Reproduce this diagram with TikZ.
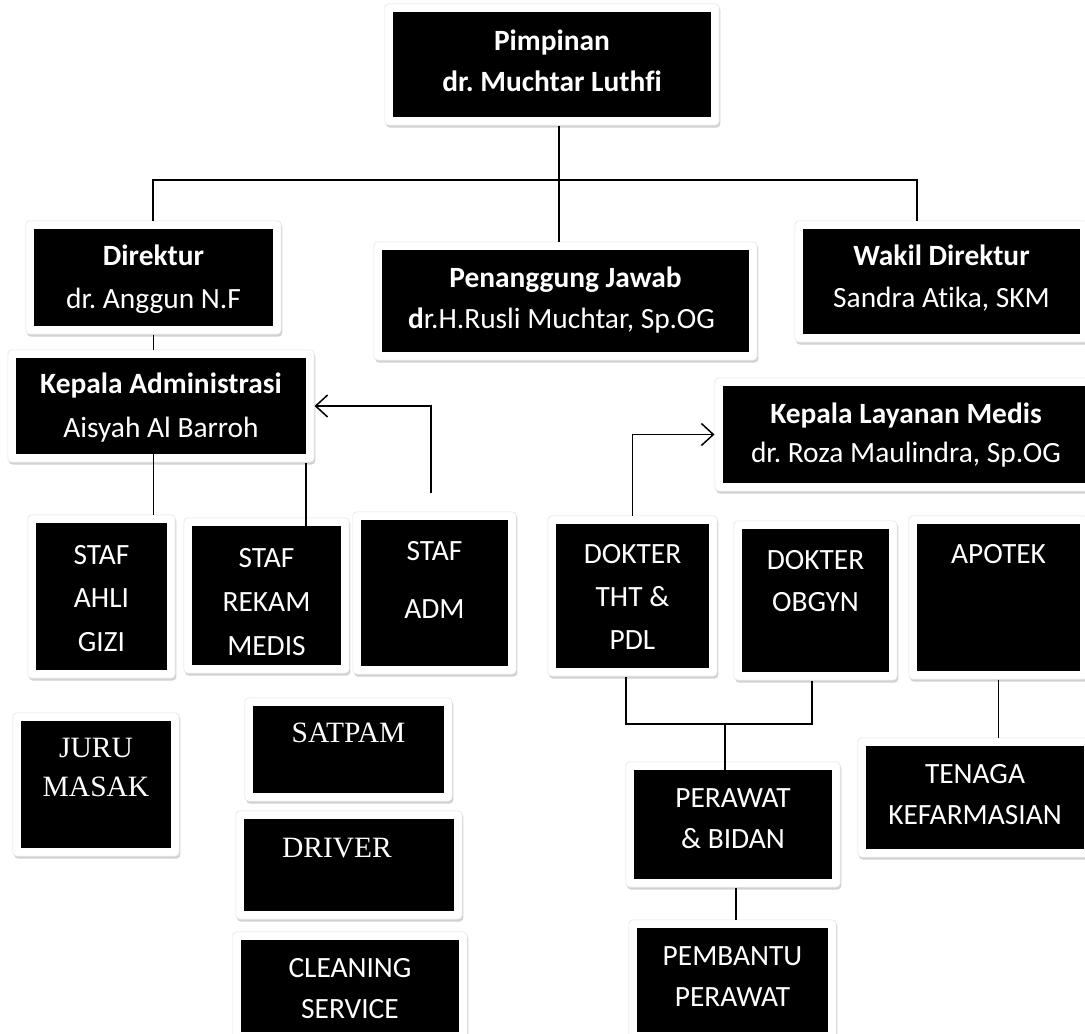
\documentclass[tikz,border=0pt]{standalone}
\usepackage{fontspec}
\setmainfont{Carlito}[Ligatures=NoCommon]
\newfontfamily\tnr{Liberation Serif}
\usetikzlibrary{backgrounds,fit,shadows,arrows.meta,calc}
\newcommand\ml[1]{\begin{tabular}[t]{@{}c@{}}#1\end{tabular}}
\frenchspacing
\tikzset{
  card/.style={fill=black, text=white, inner sep=0pt, anchor=base},
  fs/.style={font=\fontsize{29.4}{#1}\selectfont},
  fsr/.style={font=\tnr\fontsize{29.5}{#1}\selectfont},
  frame/.style={fill=white, draw=black!10, line width=0.6pt, rounded corners=4pt, inner sep=8pt,
    drop shadow={shadow xshift=1.2pt, shadow yshift=-2.4pt, fill=black!40, opacity=0.45}},
  conn/.style={line width=1.5pt},
  arr/.style={conn, -{Straight Barb[length=12pt,width=22pt]}}
}
\begin{document}
\begin{tikzpicture}[x=1pt,y=-1pt]
\useasboundingbox (0,0) rectangle (1085,1034);
\clip (0,0) rectangle (1085,1034);
% boxes
\node[card, fs=41, minimum width=318pt, text height=38pt, text depth=67pt] (pim) at (552,50) {\ml{\textbf{Pimpinan}\\\textbf{dr. Muchtar Luthfi}}};
\node[card, fs=43, minimum width=239pt, text height=36pt, text depth=61pt] (dir) at (153.5,265) {\ml{\textbf{Direktur}\\dr. Anggun N.F}};
\node[card, fs=41, minimum width=367pt, text height=37pt, text depth=65pt] (pj) at (565.5,287) {\ml{\textbf{Penanggung Jawab}\\\textbf{d}r.H.Rusli Muchtar, Sp.OG\hspace*{8pt}}};
\node[card, fs=42, minimum width=277pt, text height=36pt, text depth=69pt] (wk) at (941.5,265) {\ml{\textbf{Wakil Direktur}\\Sandra Atika, SKM}};
\node[card, fs=44, minimum width=290pt, text height=35pt, text depth=61pt] (ka) at (161,393) {\ml{\textbf{Kepala Administrasi}\\Aisyah Al Barroh}};
\node[card, fs=39, minimum width=366pt, text height=37pt, text depth=60pt] (klm) at (906,423) {\ml{\textbf{Kepala Layanan Medis}\\dr. Roza Maulindra, Sp.OG}};
\node[card, fs=43.5, minimum width=131pt, text height=41pt, text depth=106pt] (sg) at (101.5,564) {\ml{STAF\\AHLI\\GIZI}};
\node[card, fs=44, minimum width=149pt, text height=41pt, text depth=98pt] (rm) at (266.5,567) {\ml{STAF\\REKAM\\MEDIS}};
\node[card, fs=58, minimum width=147pt, text height=40pt, text depth=106pt] (adm) at (434.5,560) {\ml{STAF\\ADM}};
\node[card, fs=43, minimum width=153pt, text height=39pt, text depth=105pt] (tht) at (632.5,563) {\ml{DOKTER\\THT \&\\PDL}};
\node[card, fs=42, minimum width=147pt, text height=40pt, text depth=103pt] (ob) at (815.5,569) {\ml{DOKTER\\OBGYN}};
\node[card, fs=42, minimum width=163pt, text height=39pt, text depth=108pt] (ap) at (998.5,563) {\ml{APOTEK}};
\node[card, fsr=39, minimum width=150pt, text height=36pt, text depth=91pt] (jm) at (96,757) {\ml{JURU\\MASAK}};
\node[card, fsr=39, minimum width=191pt, text height=36pt, text depth=51pt] (sat) at (348.5,742) {\ml{SATPAM}};
\node[card, fsr=39, minimum width=210pt, text height=38pt, text depth=54pt] (drv) at (349,857) {\ml{DRIVER\hspace*{24pt}}};
\node[card, fs=41, minimum width=218pt, text height=37pt, text depth=55pt] (cs) at (350,977) {\ml{CLEANING\\SERVICE}};
\node[card, fs=41, minimum width=198pt, text height=37pt, text depth=72pt] (pb) at (733,807) {\ml{PERAWAT\\\& BIDAN}};
\node[card, fs=41, minimum width=191pt, text height=37pt, text depth=67pt] (pp) at (732.5,965) {\ml{PEMBANTU\\PERAWAT}};
\node[card, fs=41, minimum width=218pt, text height=37pt, text depth=66pt] (tk) at (975,783) {\ml{TENAGA\\KEFARMASIAN}};
% white frames behind the boxes
\begin{scope}[on background layer]
\clip (0,0) rectangle (1085,1034);
\foreach \n in {pim,dir,pj,wk,ka,klm,sg,rm,adm,tht,ob,ap,jm,sat,drv,cs,pb,pp,tk}
  \node[frame, fit=(\n)] (\n F) {};
\end{scope}
% connectors
\coordinate (bus) at (559,180);
\coordinate (busL) at (153,180);
\coordinate (busR) at (917,180);
\draw[conn] (pimF.south -| bus) -- (pjF.north -| bus);
\draw[conn] (dirF.north -| busL) -- (busL) -- (busR) -- (wkF.north -| busR);
\draw[conn] (dirF.south) -- (kaF.north -| dirF.south);
\draw[conn] (ka.south -| dir.south) -- (sgF.north -| dir.south);
\draw[conn] (kaF.south -| ka.east) -- (rm.north -| ka.east);
\coordinate (admTop) at (431,493);
\draw[arr] (admTop) |- (kaF.east);
\draw[arr] (thtF.north) |- (klmF.west);
\coordinate (j1) at (626,724);
\coordinate (j2) at (812,724);
\coordinate (mb) at (725,724);
\draw[conn] (thtF.south -| j1) -- (j1) -- (j2) -- (obF.south -| j2);
\draw[conn] (mb) -- (pb.north -| mb);
\coordinate (pc) at (736,900);
\draw[conn] (pbF.south -| pc) -- (ppF.north -| pc);
\draw[conn] (apF.south) -- (tkF.north -| apF.south);
\end{tikzpicture}
\end{document}
